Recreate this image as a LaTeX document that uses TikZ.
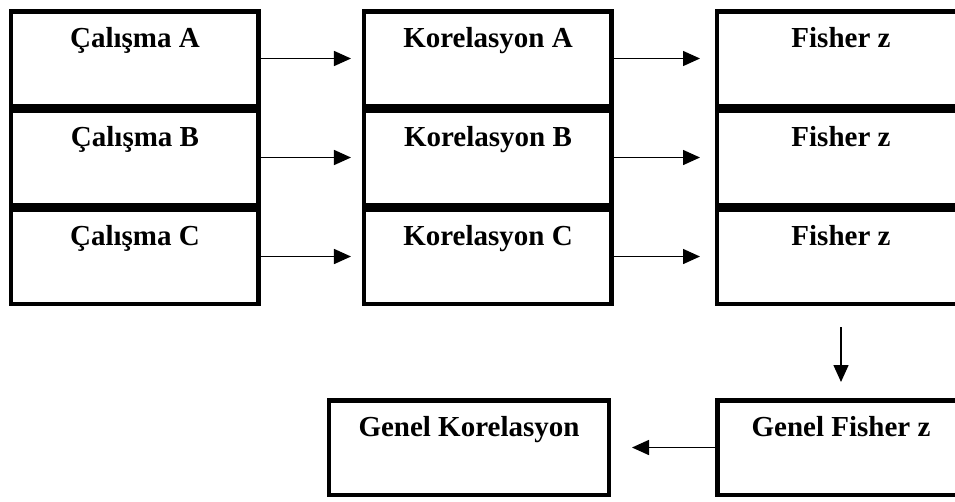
\documentclass[tikz,border=0pt]{standalone}
\usepackage{fontspec}
\setmainfont{Liberation Serif}
\usepackage{tikz}
\usetikzlibrary{arrows.meta, matrix, positioning}

\begin{document}
\begin{tikzpicture}[auto,
  box/.style={rectangle, draw=black, line width=4.5pt, minimum width=247.5pt,
    minimum height=94.5pt, text height=22pt, text depth=45pt,
    font=\fontsize{29}{32}\selectfont\bfseries},
  %
  widebox/.style={box, minimum width=279.5pt},
  %
  flow/.style={-{Triangle[length=17pt, width=15pt]}, line width=1.5pt}
  ]

  \begin{scope}
    \matrix [matrix of nodes, column sep=101pt, row sep=0pt] (grid) {
    %%%%%%%%%%%%%%%%%%%%%%%%%%%%%%%
    \node [box] (cala) {Çalışma A}; &
    \node [box] (kora) {Korelasyon A}; &
    \node [box] (fisa) {Fisher z}; \\
    %%%%%%%%%%%%%%%%%%%%%%%%%%%%%%%
    \node [box] (calb) {Çalışma B}; &
    \node [box] (korb) {Korelasyon B}; &
    \node [box] (fisb) {Fisher z}; \\
    %%%%%%%%%%%%%%%%%%%%%%%%%%%%%%%
    \node [box] (calc) {Çalışma C}; &
    \node [box] (korc) {Korelasyon C}; &
    \node [box] (fisc) {Fisher z}; \\
  };
  \end{scope}

  \node [box, below=92pt of fisc] (genfis) {Genel Fisher z};
  \node [widebox, left=104pt of genfis] (genkor) {Genel Korelasyon};

  \begin{scope}
    \draw [flow, shorten >=11pt] (cala) -- (kora);
    \draw [flow, shorten >=11pt] (calb) -- (korb);
    \draw [flow, shorten >=11pt] (calc) -- (korc);
    \draw [flow, shorten >=15pt] (kora) -- (fisa);
    \draw [flow, shorten >=15pt] (korb) -- (fisb);
    \draw [flow, shorten >=15pt] (korc) -- (fisc);
    \draw [flow, shorten <=21pt, shorten >=16pt] (fisc) -- (genfis);
    \draw [flow, shorten >=21pt] (genfis) -- (genkor);
  \end{scope}

  \pgfresetboundingbox
  \useasboundingbox ([xshift=-9pt, yshift=9pt]cala.north west)
    rectangle ++(955pt,-501pt);

\end{tikzpicture}
\end{document}
